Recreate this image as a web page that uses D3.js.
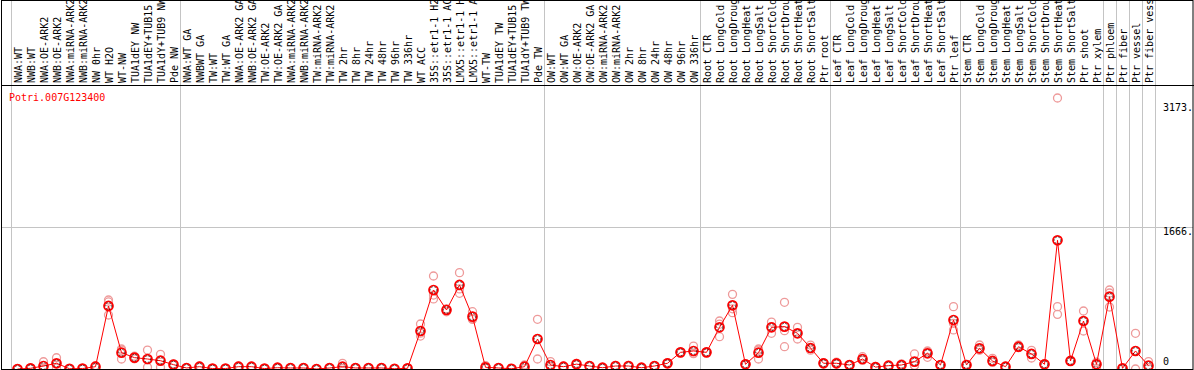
<!DOCTYPE html>
<html>
<head>
<meta charset="utf-8">
<script src="https://cdn.jsdelivr.net/npm/d3@7"></script>
<style>
  body { margin: 0; background: #fff; }
  svg { display: block; }
  text { font-family: "DejaVu Sans Mono", "Liberation Mono", monospace; font-size: 10px; }
</style>
</head>
<body>
<svg id="chart" width="1194" height="370"></svg>
<script>
var geneName = "Potri.007G123400";

var labels = [
  "NWA:WT", "NWB:WT", "NWA:OE-ARK2", "NWB:OE-ARK2", "NWA:miRNA-ARK2", "NWB:miRNA-ARK2",
  "NW 0hr", "WT H2O", "WT-NW", "TUA1dEY NW", "TUA1dEY+TUB15 NW", "TUA1dY+TUB9 NW", "Pde NW",
  "NWA:WT GA", "NWBWT GA", "TW:WT", "TW:WT GA", "NWA:OE-ARK2 GA", "NWB:OE-ARK2 GA",
  "TW:OE-ARK2", "TW:OE-ARK2 GA", "NWA:miRNA-ARK2", "NWB:miRNA-ARK2", "TW:miRNA-ARK2",
  "TW:miRNA-ARK2", "TW 2hr", "TW 8hr", "TW 24hr", "TW 48hr", "TW 96hr", "TW 336hr",
  "WT ACC", "35S::etr1-1 H2O", "35S::etr1-1 ACC", "LMX5::etr1-1 H2O", "LMX5::etr1-1 ACC",
  "WT-TW", "TUA1dEY TW", "TUA1dEY+TUB15 TW", "TUA1dY+TUB9 TW", "Pde TW",
  "OW:WT", "OW:WT GA", "OW:OE-ARK2", "OW:OE-ARK2 GA", "OW:miRNA-ARK2", "OW:miRNA-ARK2",
  "OW 2hr", "OW 8hr", "OW 24hr", "OW 48hr", "OW 96hr", "OW 336hr",
  "Root CTR", "Root LongCold", "Root LongDrought", "Root LongHeat", "Root LongSalt",
  "Root ShortCold", "Root ShortDrought", "Root ShortHeat", "Root ShortSalt", "Ptr root",
  "Leaf CTR", "Leaf LongCold", "Leaf LongDrought", "Leaf LongHeat", "Leaf LongSalt",
  "Leaf ShortCold", "Leaf ShortDrought", "Leaf ShortHeat", "Leaf ShortSalt", "Ptr leaf",
  "Stem CTR", "Stem LongCold", "Stem LongDrought", "Stem LongHeat", "Stem LongSalt",
  "Stem ShortCold", "Stem ShortDrought", "Stem ShortHeat", "Stem ShortSalt", "Ptr shoot",
  "Ptr xylem", "Ptr phloem", "Ptr fiber", "Ptr vessel", "Ptr fiber vessel"
];

// number of samples in each separated block
var groupSizes = [13, 28, 12, 10, 10, 11, 1, 1, 1, 1];

var means = [
  0, 8, 35, 67, 3, 5, 27, 738, 191, 133, 117, 97, 51,
  12, 27, 5, 5, 27, 27, 5, 15, 12, 12, 0, 12, 27, 12, 12, 12, 3, 8,
  445, 925, 691, 984, 613, 20, 12, 3, 27, 351,
  47, 27, 57, 35, 15, 35, 35, 15, 35, 67, 195, 211,
  195, 488, 746, 55, 191, 488, 496, 418, 246, 67,
  67, 47, 117, 22, 39, 47, 86, 184, 47, 574,
  47, 242, 94, 27, 261, 176, 55, 1507, 94, 562, 55,
  847, 8, 211, 39
];

var reps = [
  [0, 0, 0], [12, 5, 7], [85, 10, 10], [132, 60, 10], [5, 2, 2], [8, 3, 4], [40, 27, 15],
  [808, 785, 632], [234, 117, 220], [150, 130, 120], [222, 20, 110], [172, 20, 100], [60, 45, 48],
  [15, 10, 11], [35, 20, 26], [8, 3, 4], [7, 4, 4], [35, 22, 24], [33, 24, 24], [7, 4, 4],
  [20, 12, 13], [15, 10, 11], [16, 10, 10], [0, 0, 0], [15, 10, 11], [67, 10, 5], [16, 10, 10],
  [15, 11, 10], [16, 10, 10], [5, 2, 2], [10, 6, 8],
  [527, 386, 420], [1089, 820, 866], [670, 700, 703], [1128, 886, 938], [671, 590, 580],
  [40, 10, 10], [15, 10, 11], [5, 2, 2], [47, 30, 5], [582, 117, 355],
  [86, 30, 25], [35, 22, 24], [65, 52, 54], [40, 32, 33], [20, 12, 13], [42, 30, 33],
  [42, 30, 33], [20, 12, 13], [40, 32, 33], [75, 62, 64], [200, 190, 195], [269, 180, 185],
  [200, 190, 195], [562, 378, 525], [874, 659, 705], [62, 50, 53], [234, 117, 222],
  [550, 418, 495], [781, 449, 261], [488, 351, 415], [280, 220, 240], [75, 62, 64],
  [80, 60, 61], [52, 44, 45], [144, 100, 107], [30, 18, 18], [45, 35, 37], [59, 40, 42],
  [176, 40, 42], [211, 137, 204], [52, 44, 45], [730, 457, 535],
  [55, 42, 44], [281, 220, 225], [125, 80, 77], [33, 24, 24], [281, 250, 252],
  [219, 129, 180], [62, 50, 53], [3173, 730, 640], [100, 90, 92], [679, 445, 562],
  [8, 80, 77], [925, 890, 726], [10, 6, 8], [418, 0, 215], [86, 15, 16]
];

var yTicks = [0, 1666, 3173];

var svg = d3.select("#chart"),
    width = +svg.attr("width"),
    height = +svg.attr("height"),
    headerH = 85;

var x = d3.scaleBand().domain(d3.range(labels.length)).range([11, 1155]);
var y = d3.scaleLinear().domain([0, 3173]).range([369, 98]);
var cx = function(i) { return x(i) + x.bandwidth() / 2; };

// horizontal grid line at the middle tick
svg.selectAll(".hgrid")
    .data(yTicks.filter(function(d) { return d > 0 && d < 3173; }))
    .enter().append("line")
    .attr("x1", 1).attr("x2", width - 1)
    .attr("y1", function(d) { return Math.round(y(d)) + 0.5; })
    .attr("y2", function(d) { return Math.round(y(d)) + 0.5; })
    .attr("stroke", "#c4c4c4");

// vertical separators at block boundaries
var bounds = [0];
groupSizes.forEach(function(n) { bounds.push(bounds[bounds.length - 1] + n); });
svg.selectAll(".vsep")
    .data(bounds)
    .enter().append("line")
    .attr("x1", function(k) { return (k < labels.length ? x(k) : x(k - 1) + x.bandwidth()) + 0.5; })
    .attr("x2", function(k) { return (k < labels.length ? x(k) : x(k - 1) + x.bandwidth()) + 0.5; })
    .attr("y1", 0).attr("y2", height)
    .attr("stroke", "#c4c4c4");

// rotated sample names in the header (long ones run off the top, as in the source)
svg.append("clipPath").attr("id", "hdr")
    .append("rect").attr("x", 0).attr("y", 1).attr("width", width).attr("height", headerH - 1);

svg.append("g").attr("clip-path", "url(#hdr)")
    .selectAll("text")
    .data(labels)
    .enter().append("text")
    .attr("transform", function(d, i) { return "translate(" + (cx(i) + 4) + "," + (headerH - 2) + ") rotate(-90)"; })
    .attr("fill", "#000")
    .text(function(d) { return d; });

svg.append("line")
    .attr("x1", 1).attr("x2", width)
    .attr("y1", headerH + 0.5).attr("y2", headerH + 0.5)
    .attr("stroke", "#000");

svg.append("text")
    .attr("x", 9).attr("y", 101)
    .attr("fill", "#ff0000")
    .text(geneName);

// y labels on the right
svg.selectAll(".ylab")
    .data(yTicks)
    .enter().append("text")
    .attr("x", 1163)
    .attr("y", function(d) { return d === 0 ? y(d) - 4 : y(d) + (d === 3173 ? 13 : 8); })
    .attr("fill", "#000")
    .text(function(d) { return d === 0 ? "0" : d + "."; });

// replicate points
var repData = [];
reps.forEach(function(r, i) { r.forEach(function(v) { repData.push({ i: i, v: v }); }); });
svg.append("g").selectAll("circle")
    .data(repData)
    .enter().append("circle")
    .attr("cx", function(d) { return cx(d.i); })
    .attr("cy", function(d) { return y(d.v); })
    .attr("r", 4)
    .attr("fill", "none")
    .attr("stroke", "#ee9a9a")
    .attr("stroke-width", 1.3);

// mean line
var line = d3.line()
    .x(function(d, i) { return cx(i); })
    .y(function(d) { return y(d); });
svg.append("path")
    .datum(means)
    .attr("d", line)
    .attr("fill", "none")
    .attr("stroke", "#ff0000")
    .attr("stroke-width", 1);

var mg = svg.append("g").selectAll("g")
    .data(means)
    .enter().append("g")
    .attr("transform", function(d, i) { return "translate(" + cx(i) + "," + y(d) + ")"; });
mg.append("circle").attr("r", 4.5).attr("fill", "none").attr("stroke", "#ff0000").attr("stroke-width", 1.7);
mg.append("circle").attr("r", 3.3).attr("fill", "none").attr("stroke", "#000")
    .attr("stroke-width", 0.7).attr("stroke-dasharray", "1.6,1.6");

// frame
svg.append("rect")
    .attr("x", 1.5).attr("y", 0.5)
    .attr("width", width - 2.5).attr("height", 369)
    .attr("fill", "none")
    .attr("stroke", "#000");
</script>
</body>
</html>
